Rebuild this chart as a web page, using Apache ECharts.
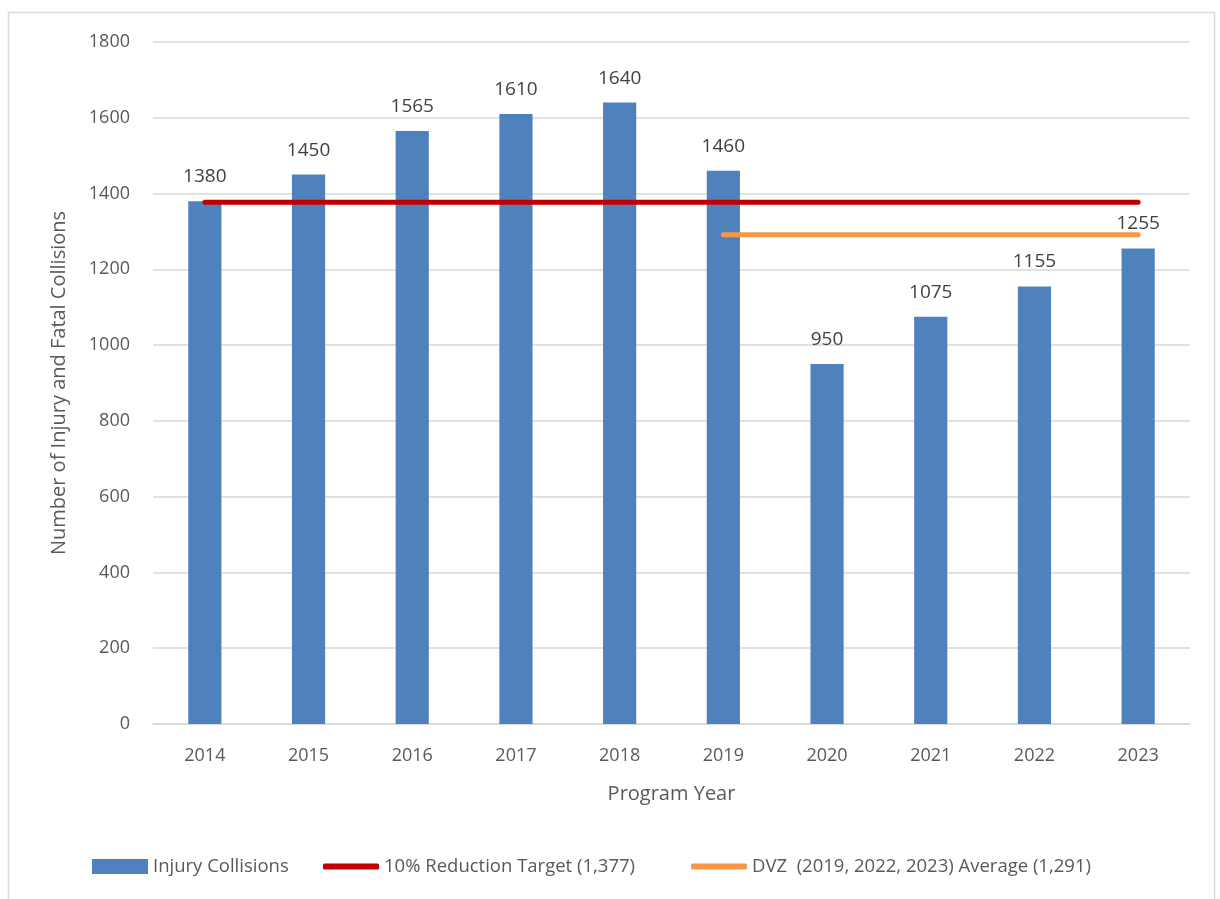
<!DOCTYPE html>
<html><head><meta charset="utf-8">
<script src="https://cdn.jsdelivr.net/npm/echarts@6/dist/echarts.min.js"></script>
<style>html,body{margin:0;padding:0;background:#fff}#c{width:1220px;height:899px}</style>
</head><body><div id="c"></div>
<script>
const categories = ['2014','2015','2016','2017','2018','2019','2020','2021','2022','2023'];
const injuryCollisions = [1380,1450,1565,1610,1640,1460,950,1075,1155,1255];
const reductionTarget = [1377,1377,1377,1377,1377,1377,1377,1377,1377,1377];
const dvzAverage = [null,null,null,null,null,1291,1291,1291,1291,1291];
const seriesNames = ['Injury Collisions','10% Reduction Target (1,377)','DVZ  (2019, 2022, 2023) Average (1,291)'];

const font = '"Open Sans", "Noto Sans", sans-serif';
const chart = echarts.init(document.getElementById('c'), null, {renderer:'canvas'});
chart.setOption({
  animation:false,
  textStyle:{fontFamily:font},
  graphic:[{type:'rect',shape:{x:8.5,y:12.5,width:1206,height:900},style:{fill:'none',stroke:'#d9d9d9',lineWidth:1.5},silent:true,z:-10}],
  grid:{left:153,right:30,top:42,bottom:175},
  legend:[{
    top:852,left:87,itemWidth:56,itemHeight:15,icon:'rect',
    textStyle:{fontSize:18.5,color:'#595959',fontFamily:font},
    data:[seriesNames[0]]
  },{
    top:852,left:318,itemGap:56,itemWidth:56,itemHeight:6,icon:'roundRect',
    textStyle:{fontSize:18.5,color:'#595959',fontFamily:font},
    data:[seriesNames[1],seriesNames[2]]
  }],
  xAxis:{
    type:'category',data:categories,
    axisLine:{lineStyle:{color:'#d9d9d9',width:1.5}},
    axisTick:{show:false},
    axisLabel:{fontSize:18,color:'#595959',margin:23},
    name:'Program Year',nameLocation:'middle',nameGap:60,
    nameTextStyle:{fontSize:20,color:'#595959'}
  },
  yAxis:{
    type:'value',min:0,max:1800,interval:200,
    axisLine:{show:false},axisTick:{show:false},
    splitLine:{lineStyle:{color:'#d9d9d9',width:1.5}},
    axisLabel:{fontSize:18,color:'#595959',margin:23,formatter:v=>String(v)},
    name:'Number of Injury and Fatal Collisions',nameLocation:'middle',nameGap:84,
    nameTextStyle:{fontSize:20,color:'#595959'}
  },
  series:[
    {name:seriesNames[0],type:'bar',data:injuryCollisions,barWidth:'32%',
     itemStyle:{color:'#4f81bd'},
     label:{show:true,position:'top',fontSize:19,color:'#404040',distance:15}},
    {name:seriesNames[1],type:'line',data:reductionTarget,symbol:'none',
     itemStyle:{color:'#c00000'},
     lineStyle:{color:'#c00000',width:5,cap:'round'}},
    {name:seriesNames[2],type:'line',data:dvzAverage,symbol:'none',
     itemStyle:{color:'#f79646'},
     lineStyle:{color:'#f79646',width:5,cap:'round'}}
  ]
});
</script></body></html>
